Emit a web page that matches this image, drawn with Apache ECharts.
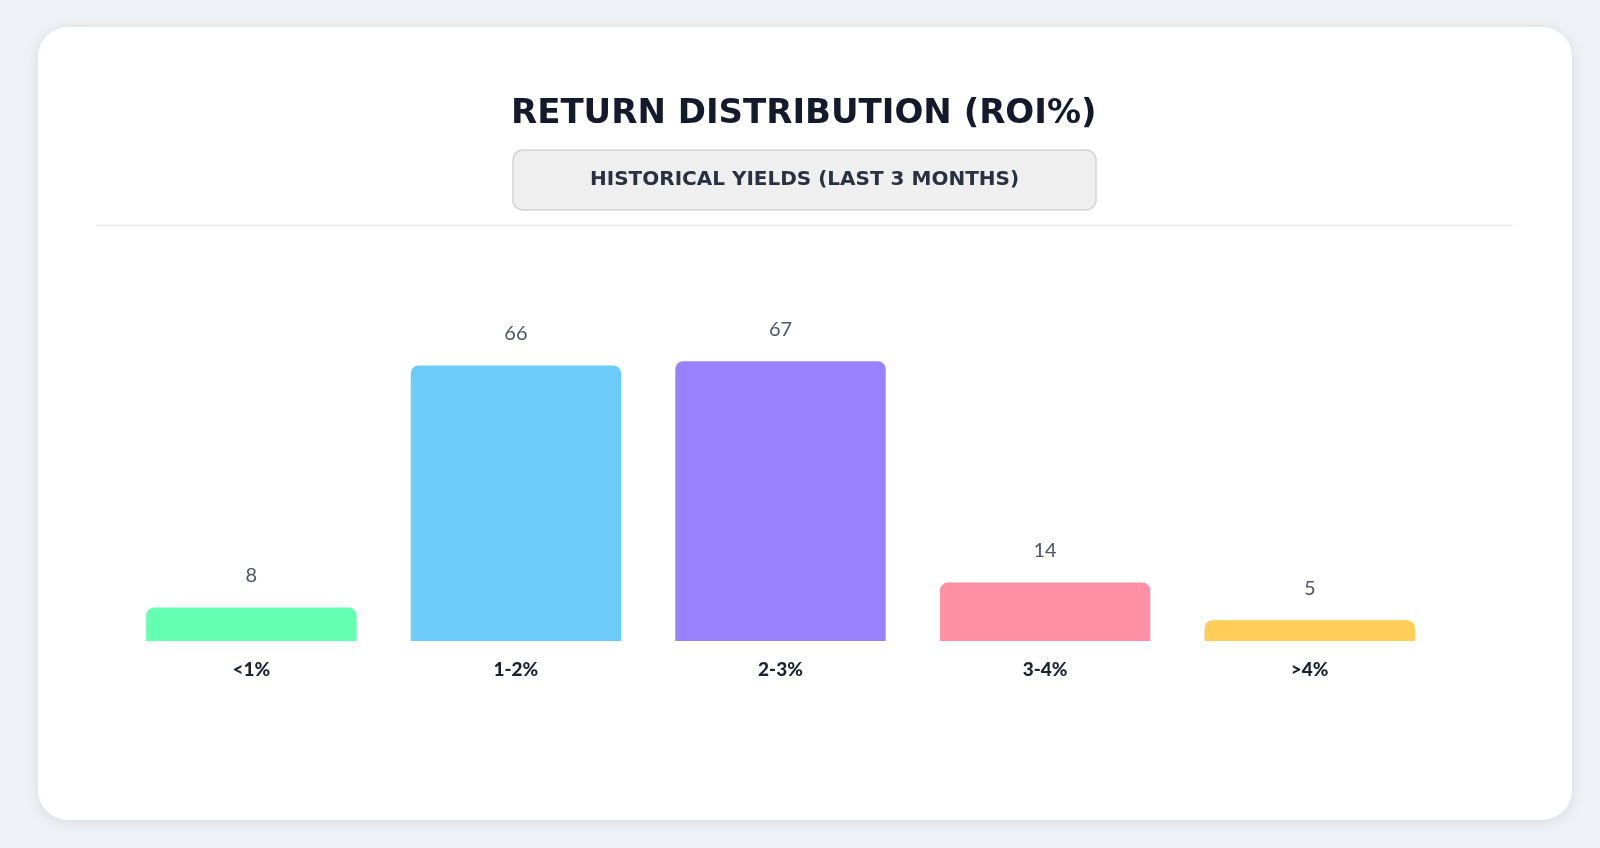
<!DOCTYPE html>
<html>
<head>
    <meta charset="UTF-8">
    <script type="text/javascript" src="https://cdn.jsdelivr.net/npm/echarts@6/dist/echarts.min.js"></script>
    <style type="text/css">
        *{
            margin: 0;
            padding: 0;
        }
        body{
            background: #eef1f5;
        }
        #main{
            width: 1600px;
            height: 848px;
        }
    </style>
</head>
<body>
<div id="main"></div>
<script type="text/javascript">
    // data
    var categories = ['<1%', '1-2%', '2-3%', '3-4%', '>4%'];
    var counts = [8, 66, 67, 14, 5];
    var barColors = ['#64ffb0', '#6ccbfa', '#9881fd', '#ff8fa2', '#ffcd58'];

    var myChart = echarts.init(document.getElementById('main'));

    var option = {
        backgroundColor: '#eef1f5',
        graphic: [
            {
                type: 'rect',
                z: -10,
                shape: {x: 38, y: 27, width: 1534, height: 793, r: 30},
                style: {
                    fill: '#ffffff',
                    shadowBlur: 14,
                    shadowColor: 'rgba(30,40,60,0.10)',
                    shadowOffsetY: 2
                }
            },
            {
                type: 'line',
                z: -5,
                shape: {x1: 96, y1: 225.5, x2: 1513, y2: 225.5},
                style: {stroke: '#e6e8ec', lineWidth: 1.5}
            }
        ],
        title: [
            {
                text: 'RETURN DISTRIBUTION (ROI%)',
                left: 506,
                top: 92,
                textStyle: {
                    fontFamily: 'DejaVu Sans',
                    fontWeight: 'bold',
                    fontSize: 34,
                    color: '#141a2b'
                }
            },
            {
                text: 'HISTORICAL YIELDS (LAST 3 MONTHS)',
                left: 513,
                top: 150,
                padding: [20, 77],
                backgroundColor: '#efefef',
                borderColor: '#d2d3d6',
                borderWidth: 1.5,
                borderRadius: 10,
                textStyle: {
                    fontFamily: 'DejaVu Sans',
                    fontWeight: 'bold',
                    fontSize: 20,
                    color: '#2a3040'
                }
            }
        ],
        grid: {
            left: 119,
            right: 158,
            top: 307,
            bottom: 207
        },
        xAxis: {
            type: 'category',
            data: categories,
            axisLine: {show: false},
            axisTick: {show: false},
            axisLabel: {
                margin: 19,
                fontFamily: 'Lato',
                fontWeight: 900,
                fontSize: 19,
                color: '#1c2232'
            }
        },
        yAxis: {
            type: 'value',
            min: 0,
            max: 80,
            show: false,
            splitLine: {show: false}
        },
        series: [{
            type: 'bar',
            barWidth: '79.5%',
            data: counts.map(function (v, i) {
                return {value: v, itemStyle: {color: barColors[i]}};
            }),
            itemStyle: {borderRadius: [8, 8, 0, 0]},
            label: {
                show: true,
                position: 'top',
                distance: 22,
                fontFamily: 'Lato',
                fontSize: 20,
                color: '#505666'
            }
        }]
    };
    myChart.setOption(option);
</script>
</body>
</html>
